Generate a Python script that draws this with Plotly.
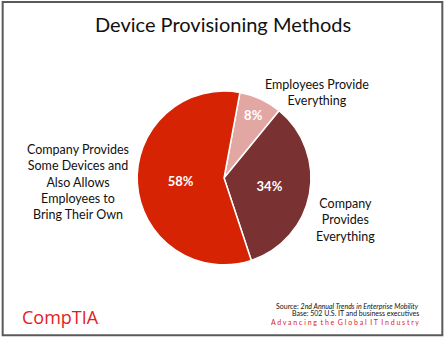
import plotly.graph_objects as go

labels = ["Employees Provide Everything", "Company Provides Everything",
          "Company Provides Some Devices and Also Allows Employees to Bring Their Own"]
values = [8, 34, 58]
colors = ["#E2A7A3", "#7A3131", "#D52303"]

title = "Device Provisioning Methods"
FONT = "Lato"

fig = go.Figure(go.Pie(
    labels=labels, values=values, sort=False, direction="clockwise",
    rotation=10.5,
    marker=dict(colors=colors, line=dict(color="white", width=1.5)),
    texttemplate="<b>%{value}%</b>", textposition="inside",
    insidetextorientation="horizontal",
    textfont=dict(family=FONT, size=13, color="white"),
    showlegend=False, hoverinfo="label+percent",
    domain=dict(x=[0.308, 0.699], y=[0.221, 0.732]),
))

tagline = "  ".join(" ".join(list(w)) for w in ["Advancing", "the", "Global", "IT", "Industry"])

ann = [
    dict(x=0.502, y=0.928, text=title, font=dict(family=FONT, size=20, color="#111")),
    dict(x=0.712, y=0.727, text="Employees Provide<br>Everything",
         font=dict(family=FONT, size=12.5, color="#111")),
    dict(x=0.176, y=0.465, text="Company Provides<br>Some Devices and<br>Also Allows<br>Employees to<br>Bring Their Own",
         font=dict(family=FONT, size=12.5, color="#111")),
    dict(x=0.776, y=0.352, text="Company<br>Provides<br>Everything",
         font=dict(family=FONT, size=12.5, color="#111")),
    dict(x=0.945, y=0.101, xanchor="right", text="Source: <i>2nd Annual Trends in Enterprise Mobility</i>",
         font=dict(family=FONT, size=7, color="#111")),
    dict(x=0.945, y=0.078, xanchor="right", text="Base: 502 U.S. IT and business executives",
         font=dict(family=FONT, size=7, color="#111")),
    dict(x=0.945, y=0.053, xanchor="right", text=tagline,
         font=dict(family=FONT, size=7, color="#E0201B")),
    dict(x=0.137, y=0.067, text="CompTIA<span style='font-size:6px'>.</span>",
         font=dict(family="Open Sans", size=18, color="#E31B23")),
]
for a in ann:
    a.setdefault("xanchor", "center")
    a.update(xref="paper", yref="paper", yanchor="middle", showarrow=False, align="center")

fig.update_layout(
    width=445, height=340, margin=dict(l=0, r=0, t=0, b=0),
    paper_bgcolor="white", plot_bgcolor="white",
    annotations=ann,
    shapes=[dict(type="rect", xref="paper", yref="paper", x0=0.006, x1=0.994, y0=0.014, y1=0.994,
                 line=dict(color="#595959", width=2))],
)
fig.write_html("out.html")
